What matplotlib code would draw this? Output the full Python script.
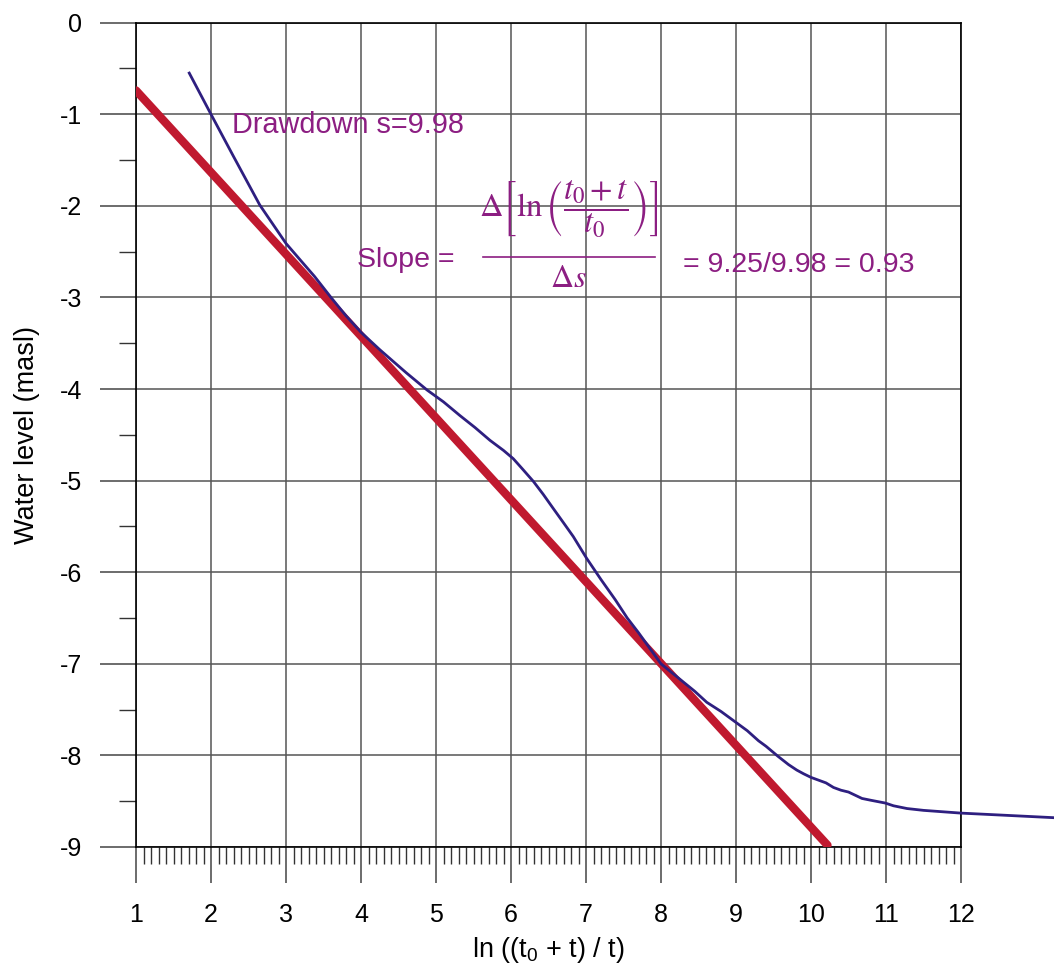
import numpy as np
import matplotlib
matplotlib.use("Agg")
import matplotlib.pyplot as plt
from matplotlib.ticker import MultipleLocator

plt.rcParams['font.family'] = ['Liberation Sans', 'DejaVu Sans']
plt.rcParams['axes.unicode_minus'] = False
plt.rcParams['mathtext.fontset'] = 'custom'
plt.rcParams['mathtext.rm'] = 'Liberation Sans'
plt.rcParams['mathtext.it'] = 'Liberation Sans:italic'

ln_ratio = [1.71, 2.0, 2.3, 2.65, 3.0, 3.2, 3.38, 3.6, 3.8, 4.0, 4.25, 4.6,
            4.88, 5.1, 5.32, 5.52, 5.72, 5.9, 6.03, 6.15, 6.3, 6.43, 6.56,
            6.7, 6.83, 7.01, 7.2, 7.39, 7.55, 7.7, 7.85, 8.0, 8.15, 8.3,
            8.45, 8.61, 8.8, 9.0, 9.15, 9.3, 9.4, 9.56, 9.7, 9.81, 9.9, 10.0,
            10.1, 10.2, 10.3, 10.4, 10.5, 10.68, 10.8, 10.99, 11.1, 11.28,
            11.5, 12.0, 12.5, 13.24]
water_level = [-0.55, -1.0, -1.46, -1.99, -2.41, -2.6, -2.77, -3.0, -3.2,
               -3.38, -3.57, -3.82, -4.01, -4.14, -4.29, -4.42, -4.56, -4.67,
               -4.76, -4.87, -5.01, -5.15, -5.30, -5.46, -5.61, -5.85, -6.08,
               -6.30, -6.5, -6.66, -6.83, -7.0, -7.1, -7.2, -7.3, -7.42, -7.52,
               -7.64, -7.73, -7.84, -7.9, -8.01, -8.1, -8.16, -8.2, -8.24,
               -8.27, -8.3, -8.35, -8.38, -8.40, -8.47, -8.49, -8.52, -8.55,
               -8.58, -8.6, -8.63, -8.65, -8.68]

# fitted straight line
fit_x = [1.0, 10.22]
fit_y = [-0.74, -8.98]

drawdown_text = 'Drawdown s=9.98'
slope_result = '= 9.25/9.98 = 0.93'

purple = '#8C1E82'

fig = plt.figure(figsize=(10.54, 9.64), dpi=100)
ax = fig.add_axes([136 / 1054, 1 - 847 / 964, 825 / 1054, (847 - 22.7) / 964])

ax.set_xlim(1, 12)
ax.set_ylim(-9, 0)
ax.xaxis.set_major_locator(MultipleLocator(1))
ax.xaxis.set_minor_locator(MultipleLocator(0.1))
ax.yaxis.set_major_locator(MultipleLocator(1))
ax.yaxis.set_minor_locator(MultipleLocator(0.5))

ax.grid(True, which='major', color='#555555', lw=1.1)
ax.tick_params(which='major', length=26, width=1.1, color='#444444',
               labelsize=18, direction='out')
ax.tick_params(axis='x', which='major', pad=14)
ax.tick_params(axis='y', which='major', pad=13)
ax.tick_params(which='minor', length=12, width=1.0, color='#333333', direction='out')
for s in ax.spines.values():
    s.set_color('black')
    s.set_linewidth(1.2)

ax.plot(fit_x, fit_y, color='#C0192F', lw=6, solid_capstyle='round', zorder=3)
ax.plot(ln_ratio, water_level, color='#2E1F80', lw=2.0, clip_on=False, zorder=4)

ax.text(2.28, -1.20, drawdown_text, color=purple, fontsize=20.8, va='baseline')
ax.text(3.95, -2.667, 'Slope =', color=purple, fontsize=20.5, va='baseline')
ax.text(8.29, -2.718, slope_result, color=purple, fontsize=20.5, va='baseline')

# slope formula: numerator, fraction bar, denominator
ax.text(6.77, -2.04,
        r'$\Delta\left[\ln\left(\dfrac{t_0+t}{t_0}\right)\right]$',
        color=purple, fontsize=23.5, ha='center', va='center', math_fontfamily='stix')
ax.plot([5.63, 7.92], [-2.558, -2.558], color=purple, lw=1.2)
ax.text(6.77, -2.80, r'$\Delta s$', color=purple, fontsize=23,
        ha='center', va='center', math_fontfamily='stix')

ax.set_xlabel(r'ln ((t$_0$ + t) / t)', fontsize=19.5, labelpad=6)
ax.set_ylabel('Water level (masl)', fontsize=19.5, labelpad=14)

fig.savefig('out.png', dpi=100)
